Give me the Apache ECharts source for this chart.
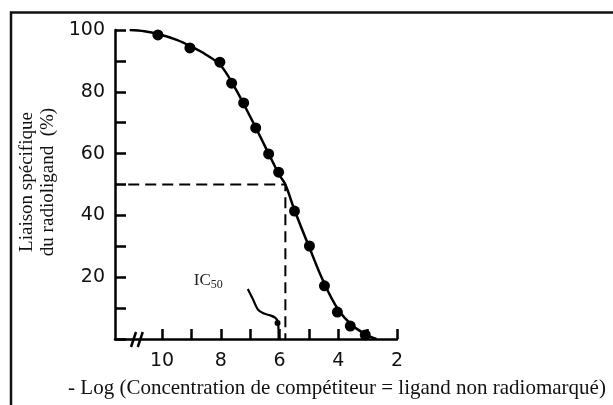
<!DOCTYPE html>
<html>
<head>
<meta charset="utf-8">
<script src="https://cdn.jsdelivr.net/npm/echarts@6/dist/echarts.min.js"></script>
<style>
  html, body { margin: 0; padding: 0; background: #fff; }
  #chart { width: 613px; height: 405px; }
</style>
</head>
<body>
<div id="chart"></div>
<script>
// Measured binding points: -log[competitor] vs specific binding (%)
const pointLogC = [10.14, 9.05, 8.03, 7.63, 7.22, 6.81, 6.37, 6.03, 5.49, 4.98, 4.47, 4.03, 3.59, 3.08];
const pointBinding = [98.4, 94.2, 89.6, 82.8, 76.4, 68.3, 59.9, 54.0, 41.4, 30.1, 17.2, 8.7, 4.2, 1.3];

// Fitted displacement curve
const curveLogC = [11.1, 10.6, 10.1, 9.5, 9.0, 8.5, 8.0, 7.5, 7.0, 6.5, 6.0, 5.8, 5.5, 5.0, 4.5, 4.0, 3.5, 3.0, 2.7];
const curveBinding = [100, 99.6, 98.6, 96.8, 94.6, 92.0, 88.5, 81.0, 72.0, 62.5, 53.0, 50.0, 42.0, 30.0, 18.5, 9.5, 4.2, 1.2, 0];

// IC50 read-out
const ic50 = 5.8;
const halfBinding = 50;
const guideStart = 11.15;

// Pointer from the IC50 label down to the axis
const pointerLogC = [7.08, 6.90, 6.74, 6.55, 6.33, 6.15, 6.05, 6.03];
const pointerBinding = [16.2, 12.8, 9.6, 8.3, 7.7, 6.9, 5.5, 0];

// Axis ticks and labels
const xTicks = [2, 3, 4, 5, 6, 7, 8, 9, 10];
const xLabels = [2, 4, 6, 8, 10];
const yLabels = [20, 40, 60, 80, 100];
const xBreak = [10.97, 10.74];

const xTitle = '- Log (Concentration de compétiteur = ligand non radiomarqué)';
const yTitle = ['Liaison spécifique', 'du radioligand  (%)'];

const chart = echarts.init(document.getElementById('chart'), null, { renderer: 'canvas' });

const tickFont = { fontFamily: 'DejaVu Sans', fontSize: 19, color: '#111' };
const serif = 'Liberation Serif';

const option = {
  animation: false,
  backgroundColor: '#fff',
  grid: { left: 115, right: 216, top: 30, bottom: 66, containLabel: false },
  xAxis: {
    type: 'value',
    inverse: true,
    min: 2,
    max: 11.6,
    interval: 1,
    splitLine: { show: false },
    axisLine: { lineStyle: { color: '#000', width: 2.5 } },
    axisTick: { inside: true, length: 10, lineStyle: { color: '#000', width: 2.5 }, customValues: xTicks },
    axisLabel: Object.assign({ margin: 13, customValues: xLabels }, tickFont)
  },
  yAxis: {
    type: 'value',
    min: 0,
    max: 100,
    interval: 10,
    splitLine: { show: false },
    axisLine: { show: true, lineStyle: { color: '#000', width: 2.5 } },
    axisTick: { show: true, inside: true, length: 11, lineStyle: { color: '#000', width: 2.5 } },
    axisLabel: Object.assign({ margin: 10, customValues: yLabels }, tickFont)
  },
  series: [
    {
      name: 'guide',
      type: 'line',
      data: [[guideStart, halfBinding], [ic50, halfBinding], [ic50, 0]],
      symbol: 'none',
      lineStyle: { color: '#000', width: 2, type: [11, 6] },
      z: 1
    },
    {
      name: 'curve',
      type: 'line',
      data: curveLogC.map((x, i) => [x, curveBinding[i]]),
      smooth: 0.35,
      symbol: 'none',
      lineStyle: { color: '#000', width: 2.5 },
      z: 2
    },
    {
      name: 'points',
      type: 'scatter',
      data: pointLogC.map((x, i) => [x, pointBinding[i]]),
      symbol: 'circle',
      symbolSize: 11,
      itemStyle: { color: '#000', opacity: 1 },
      z: 3
    },
    {
      name: 'pointer',
      type: 'line',
      data: pointerLogC.map((x, i) => [x, pointerBinding[i]]),
      smooth: 0.3,
      symbol: 'none',
      lineStyle: { color: '#000', width: 2.2 },
      z: 2
    }
  ]
};

chart.setOption(option);

// Decorations placed from data coordinates
const px = (x, y) => chart.convertToPixel({ gridIndex: 0 }, [x, y]);
const axisY = px(2, 0)[1];
const gfx = [];

// Outer frame (left and top edges visible)
gfx.push({
  type: 'rect',
  shape: { x: 11, y: 12.5, width: 800, height: 600 },
  style: { fill: null, stroke: '#111', lineWidth: 2.5 },
  silent: true
});

// Axis break marks
xBreak.forEach(v => {
  const p = px(v, 0);
  gfx.push({
    type: 'line',
    shape: { x1: p[0] - 2.5, y1: axisY + 8, x2: p[0] + 2.5, y2: axisY - 7 },
    style: { stroke: '#000', lineWidth: 2.5 }
  });
});

// Arrow tip on the IC50 pointer
const tip = px(pointerLogC[pointerLogC.length - 2], pointerBinding[pointerBinding.length - 2]);
gfx.push({
  type: 'circle',
  shape: { cx: tip[0] - 0.5, cy: tip[1] + 1, r: 3 },
  style: { fill: '#000' }
});

// IC50 label
const lab = px(8.92, 19);
gfx.push({
  type: 'text',
  x: lab[0],
  y: lab[1],
  style: {
    text: '{a|IC}{b|50}',
    verticalAlign: 'middle',
    rich: {
      a: { fontFamily: serif, fontSize: 17, fill: '#222' },
      b: { fontFamily: serif, fontSize: 12, fill: '#222', padding: [9, 0, 0, 0] }
    }
  }
});

// Axis titles
gfx.push({
  type: 'text',
  x: 337,
  y: 388,
  style: {
    text: xTitle,
    fontFamily: serif,
    fontSize: 21,
    fill: '#111',
    align: 'center',
    verticalAlign: 'middle'
  }
});
gfx.push({
  type: 'text',
  x: 38,
  y: 182,
  rotation: Math.PI / 2,
  style: {
    text: yTitle.join('\n'),
    fontFamily: serif,
    fontSize: 19,
    lineHeight: 21,
    fill: '#111',
    align: 'center',
    verticalAlign: 'middle'
  }
});

chart.setOption({ graphic: gfx });
</script>
</body>
</html>
